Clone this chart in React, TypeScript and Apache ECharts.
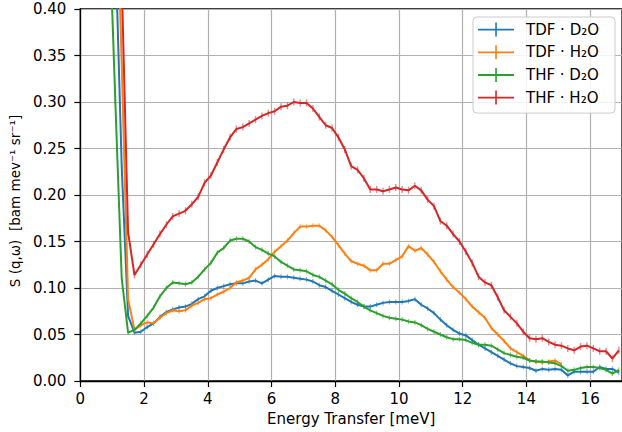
import React, { useEffect, useRef } from "react";
import * as echarts from "echarts";

const energy = [
  0.9, 1.1, 1.3, 1.5, 1.7, 1.9, 2.1, 2.3, 2.5, 2.7, 2.9, 3.1, 3.3, 3.5, 3.7, 3.9,
  4.1, 4.3, 4.5, 4.7, 4.9, 5.1, 5.3, 5.5, 5.7, 5.9, 6.1, 6.3, 6.5, 6.7, 6.9, 7.1,
  7.3, 7.5, 7.7, 7.9, 8.1, 8.3, 8.5, 8.7, 8.9, 9.1, 9.3, 9.5, 9.7, 9.9, 10.1, 10.3,
  10.5, 10.7, 10.9, 11.1, 11.3, 11.5, 11.7, 11.9, 12.1, 12.3, 12.5, 12.7, 12.9, 13.1,
  13.3, 13.5, 13.7, 13.9, 14.1, 14.3, 14.5, 14.7, 14.9, 15.1, 15.3, 15.5, 15.7, 15.9,
  16.1, 16.3, 16.5, 16.7, 16.9,
];

const tdfD2O = [
  0.72, 0.47, 0.23, 0.07, 0.052, 0.053, 0.058, 0.062, 0.069, 0.074, 0.077, 0.079, 0.08, 0.083, 0.088, 0.091,
  0.097, 0.1, 0.102, 0.104, 0.105, 0.105, 0.107, 0.108, 0.105, 0.109, 0.113, 0.112, 0.112, 0.111, 0.11, 0.109,
  0.107, 0.103, 0.101, 0.097, 0.093, 0.089, 0.085, 0.082, 0.08, 0.08, 0.082, 0.084, 0.085, 0.085, 0.085, 0.086,
  0.088, 0.082, 0.078, 0.073, 0.066, 0.06, 0.055, 0.051, 0.049, 0.044, 0.039, 0.035, 0.031, 0.027,
  0.023, 0.019, 0.016, 0.015, 0.014, 0.011, 0.013, 0.012, 0.013, 0.012, 0.006, 0.01, 0.01, 0.01,
  0.01, 0.015, 0.013, 0.013, 0.009,
];

const tdfH2O = [
  0.83, 0.58, 0.34, 0.088, 0.055, 0.06, 0.063, 0.062, 0.068, 0.073, 0.076, 0.075, 0.076, 0.081, 0.084, 0.088,
  0.089, 0.093, 0.096, 0.1, 0.106, 0.108, 0.111, 0.12, 0.125, 0.131, 0.139, 0.145, 0.151, 0.159, 0.166, 0.166,
  0.167, 0.167, 0.162, 0.155, 0.146, 0.137, 0.129, 0.126, 0.124, 0.119, 0.119, 0.126, 0.126, 0.13, 0.134, 0.145,
  0.14, 0.143, 0.136, 0.128, 0.118, 0.109, 0.101, 0.095, 0.088, 0.08, 0.074, 0.068, 0.057, 0.05,
  0.043, 0.035, 0.031, 0.027, 0.022, 0.021, 0.02, 0.021, 0.022, 0.018, null, null, null, null,
  null, null, null, null, null,
];

const thfD2O = [
  0.5, 0.3, 0.11, 0.052, 0.055, 0.062, 0.07, 0.079, 0.091, 0.1, 0.106, 0.105, 0.104, 0.106, 0.112, 0.12,
  0.127, 0.138, 0.143, 0.151, 0.153, 0.153, 0.15, 0.144, 0.141, 0.137, 0.134, 0.128, 0.124, 0.12, 0.119, 0.118,
  0.114, 0.112, 0.108, 0.104, 0.098, 0.094, 0.089, 0.085, 0.08, 0.076, 0.073, 0.07, 0.068, 0.067, 0.066, 0.064,
  0.063, 0.06, 0.056, 0.053, 0.05, 0.047, 0.045, 0.045, 0.044, 0.041, 0.039, 0.039, 0.038, 0.034,
  0.03, 0.028, 0.026, 0.025, 0.022, 0.021, 0.021, 0.02, 0.019, 0.016, 0.011, 0.012, 0.014, 0.015,
  0.015, 0.014, 0.012, 0.008, 0.012,
];

const thfH2O = [
  1.0, 0.7, 0.43, 0.16, 0.114, 0.125, 0.136, 0.147, 0.158, 0.168, 0.177, 0.18, 0.183, 0.19, 0.198, 0.213,
  0.221, 0.235, 0.249, 0.262, 0.271, 0.273, 0.277, 0.281, 0.285, 0.288, 0.29, 0.295, 0.296, 0.3, 0.299, 0.299,
  0.293, 0.284, 0.275, 0.272, 0.262, 0.249, 0.231, 0.227, 0.218, 0.206, 0.206, 0.204, 0.206, 0.208, 0.206, 0.205,
  0.21, 0.205, 0.195, 0.188, 0.172, 0.167, 0.158, 0.15, 0.139, 0.127, 0.112, 0.106, 0.103, 0.09,
  0.076, 0.069, 0.062, 0.053, 0.046, 0.045, 0.046, 0.042, 0.039, 0.038, 0.035, 0.033, 0.037, 0.038,
  0.035, 0.032, 0.032, 0.024, 0.033,
];

const seriesNames = ["TDF · D₂O", "TDF · H₂O", "THF · D₂O", "THF · H₂O"];
const seriesColors = ["#1f77b4", "#ff7f0e", "#2ca02c", "#d62728"];
const seriesValues = [tdfD2O, tdfH2O, thfD2O, thfH2O];

const FONT = "DejaVu Sans";
const ERR_SYMBOL = "path://M0,0h1v10h-1z";
const LEGEND_ICON =
  "path://M0,6.2h36v1.8h-36z M17.25,0h1.6v14h-1.6z M42.9,6.9h0.1v0.1h-0.1z";

export default function App() {
  const ref = useRef<HTMLDivElement>(null);

  useEffect(() => {
    if (!ref.current) return;
    const chart = echarts.init(ref.current, null, { renderer: "svg" });

    const series = seriesValues.map((vals, i) => ({
      name: seriesNames[i],
      type: "line",
      data: energy.map((e, k) => [e, vals[k]]),
      connectNulls: false,
      clip: true,
      showSymbol: true,
      showAllSymbol: true,
      symbol: ERR_SYMBOL,
      symbolSize: i === 3 ? [1.4, 7] : [1.2, 5],
      symbolKeepAspect: false,
      lineStyle: { color: seriesColors[i], width: 2 },
      itemStyle: { color: seriesColors[i], opacity: 0.55 },
      emphasis: { disabled: true },
      z: 2 + i,
    }));

    chart.setOption({
      animation: false,
      backgroundColor: "#ffffff",
      textStyle: { fontFamily: FONT },
      grid: {
        left: 78,
        right: 0,
        top: 9,
        bottom: 51,
        show: true,
        borderColor: "#000",
        borderWidth: 1.3,
        backgroundColor: "transparent",
      },
      legend: {
        orient: "vertical",
        right: 7,
        top: 17,
        padding: [5, 16, 8, 5],
        itemGap: 7.7,
        itemWidth: 43,
        itemHeight: 14,
        icon: LEGEND_ICON,
        itemStyle: { opacity: 1 },
        backgroundColor: "rgba(255,255,255,0.85)",
        borderColor: "#cccccc",
        borderWidth: 1,
        borderRadius: 4,
        selectedMode: false,
        textStyle: { fontFamily: FONT, fontSize: 15, color: "#000" },
        data: seriesNames,
      },
      xAxis: {
        type: "value",
        min: 0,
        max: 17,
        interval: 2,
        name: "Energy Transfer [meV]",
        nameLocation: "middle",
        nameGap: 30,
        nameTextStyle: { fontFamily: FONT, fontSize: 15, color: "#000" },
        axisLine: { show: true, onZero: false, lineStyle: { color: "#000", width: 1.3 } },
        axisTick: { show: true, inside: false, length: 6, lineStyle: { color: "#000", width: 1.2 } },
        axisLabel: {
          fontFamily: FONT,
          fontSize: 15,
          color: "#000",
          margin: 10,
          showMaxLabel: false,
          formatter: (v: number) => (v % 2 === 0 ? String(v) : ""),
        },
        splitLine: { show: true, lineStyle: { color: "#b0b0b0", width: 1.2 } },
      },
      yAxis: {
        type: "value",
        min: 0,
        max: 0.4,
        interval: 0.05,
        name: "S (q,ω)  [bam mev⁻¹ sr⁻¹]",
        nameLocation: "middle",
        nameGap: 52,
        nameTextStyle: { fontFamily: FONT, fontSize: 13.5, color: "#000", padding: [0, 12, 0, 0] },
        axisLine: { show: true, onZero: false, lineStyle: { color: "#000", width: 1.3 } },
        axisTick: { show: true, inside: false, length: 6, lineStyle: { color: "#000", width: 1.2 } },
        axisLabel: {
          fontFamily: FONT,
          fontSize: 15,
          color: "#000",
          margin: 14,
          formatter: (v: number) => v.toFixed(2),
        },
        splitLine: { show: true, lineStyle: { color: "#b0b0b0", width: 1.2 } },
      },
      series,
    });

    return () => {
      chart.dispose();
    };
  }, []);

  return (
    <div
      ref={ref}
      style={{ position: "fixed", left: 0, top: 0, width: 622, height: 432, background: "#fff" }}
    />
  );
}
